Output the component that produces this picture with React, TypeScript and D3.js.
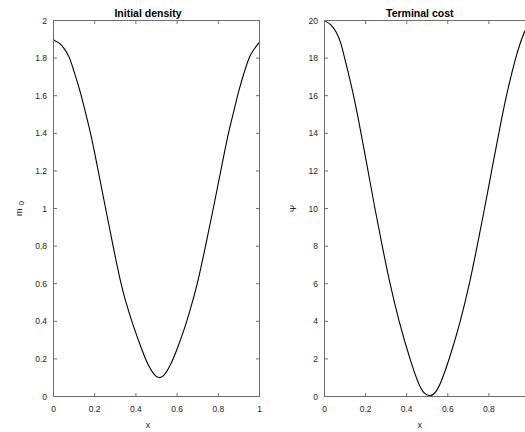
import React from "react";
import * as d3 from "d3";

const xTicks = [0, 0.2, 0.4, 0.6, 0.8, 1];
const mTicks = [0, 0.2, 0.4, 0.6, 0.8, 1, 1.2, 1.4, 1.6, 1.8, 2];
const psiTicks = [0, 2, 4, 6, 8, 10, 12, 14, 16, 18, 20];

// Initial density m0
const mX = [0, 0.032, 0.057, 0.077, 0.097, 0.13, 0.154, 0.181, 0.217, 0.253, 0.289, 0.327, 0.348, 0.385, 0.429, 0.461, 0.498, 0.514, 0.531, 0.566, 0.599, 0.643, 0.677, 0.699, 0.738, 0.776, 0.812, 0.848, 0.874, 0.897, 0.93, 0.951, 0.971, 1.0];
const mY = [1.897, 1.88, 1.844, 1.808, 1.738, 1.623, 1.516, 1.4, 1.2, 1.0, 0.8, 0.6, 0.514, 0.381, 0.248, 0.16, 0.101, 0.1, 0.101, 0.16, 0.248, 0.381, 0.514, 0.6, 0.8, 1.0, 1.2, 1.4, 1.51, 1.62, 1.74, 1.808, 1.845, 1.885];

// Terminal cost Psi
const psiX = [0, 0.032, 0.057, 0.078, 0.098, 0.143, 0.178, 0.212, 0.245, 0.281, 0.318, 0.362, 0.415, 0.46, 0.485, 0.511, 0.535, 0.56, 0.608, 0.662, 0.706, 0.743, 0.779, 0.813, 0.848, 0.884, 0.929, 0.955, 0.978, 1.0];
const psiY = [20, 19.8, 19.4, 18.9, 18, 16, 14, 12, 10, 8, 6, 4, 2, 0.56, 0.15, 0, 0.13, 0.52, 2, 4, 6, 8, 10, 12, 14, 16, 18, 18.9, 19.55, 19.85];

const FONT = "'Liberation Sans', Arial, Helvetica, sans-serif";
const AXIS = "#6e6e6e";
const TEXT = "#262626";
const W = 525;

type PanelProps = {
  x0: number;
  x1: number;
  y0: number;
  y1: number;
  yMax: number;
  yTicks: number[];
  xs: number[];
  ys: number[];
  title: string;
  titleShift: number;
  ylabel: React.ReactNode;
  ylabelX: number;
};

function fmt(v: number) {
  return String(+v.toFixed(1));
}

function Panel(p: PanelProps) {
  const x = d3.scaleLinear().domain([0, 1]).range([p.x0, p.x1]);
  const y = d3.scaleLinear().domain([0, p.yMax]).range([p.y1, p.y0]);
  const line = d3
    .line<number>()
    .x((_, i) => x(p.xs[i]))
    .y((d) => y(d))
    .curve(d3.curveBasis);
  const tl = 3.5;
  const cx = (p.x0 + p.x1) / 2;
  const cy = (p.y0 + p.y1) / 2;
  return (
    <g>
      <path d={line(p.ys) || ""} fill="none" stroke="#000" strokeWidth={1.1} />
      <rect x={p.x0} y={p.y0} width={p.x1 - p.x0} height={p.y1 - p.y0} fill="none" stroke={AXIS} strokeWidth={1} />
      {xTicks.map((t) => (
        <g key={"x" + t}>
          <line x1={x(t)} x2={x(t)} y1={p.y1} y2={p.y1 - tl} stroke={AXIS} />
          <line x1={x(t)} x2={x(t)} y1={p.y0} y2={p.y0 + tl} stroke={AXIS} />
          {x(t) + 3 < W && (
            <text x={x(t)} y={411.5} textAnchor="middle" fontSize={8.5} fill={TEXT} fontFamily={FONT}>
              {fmt(t)}
            </text>
          )}
        </g>
      ))}
      {p.yTicks.map((t) => (
        <g key={"y" + t}>
          <line x1={p.x0} x2={p.x0 + tl} y1={y(t)} y2={y(t)} stroke={AXIS} />
          <line x1={p.x1} x2={p.x1 - tl} y1={y(t)} y2={y(t)} stroke={AXIS} />
          <text x={p.x0 - 6.5} y={y(t) + 3} textAnchor="end" fontSize={8.5} fill={TEXT} fontFamily={FONT}>
            {fmt(t)}
          </text>
        </g>
      ))}
      <text x={cx + p.titleShift} y={16.5} textAnchor="middle" fontSize={10.5} fontWeight="bold" fill="#000" fontFamily={FONT}>
        {p.title}
      </text>
      <text x={cx + p.titleShift} y={428} textAnchor="middle" fontSize={9} fill={TEXT} fontFamily={FONT}>
        x
      </text>
      <g transform={`translate(${p.ylabelX},${cy}) rotate(-90)`}>{p.ylabel}</g>
    </g>
  );
}

export default function App() {
  return (
    <div style={{ position: "fixed", left: 0, top: 0 }}>
      <svg width={W} height={432} style={{ display: "block", background: "#fff" }}>
        <Panel
          x0={53.5}
          x1={259.5}
          y0={20.5}
          y1={396.5}
          yMax={2}
          yTicks={mTicks}
          xs={mX}
          ys={mY}
          title="Initial density"
          titleShift={-8.5}
          ylabelX={21.5}
          ylabel={
            <text textAnchor="middle" fontSize={9} fill={TEXT} fontFamily={FONT}>
              m<tspan dx={3} dy={2.5} fontSize={8}>0</tspan>
            </text>
          }
        />
        <Panel
          x0={324.5}
          x1={530}
          y0={20.5}
          y1={396.5}
          yMax={20}
          yTicks={psiTicks}
          xs={psiX}
          ys={psiY}
          title="Terminal cost"
          titleShift={-7.5}
          ylabelX={296}
          ylabel={
            <text textAnchor="middle" fontSize={9} fill={TEXT} fontFamily={FONT}>
              Ψ
            </text>
          }
        />
      </svg>
    </div>
  );
}
